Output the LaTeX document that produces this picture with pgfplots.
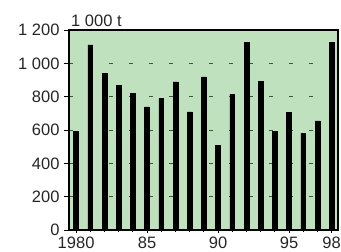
\documentclass[border=0pt]{standalone}
\usepackage{fontspec}
\setmainfont{Liberation Sans}
\usepackage{pgfplots}
\pgfplotsset{compat=1.18}
\definecolor{bg}{RGB}{192,225,190}
\definecolor{gridc}{RGB}{60,85,65}
\begin{document}
\begin{tikzpicture}
\begin{axis}[
  at={(0,0)}, anchor=south west,
  scale only axis, width=269bp, height=200bp,
  xmin=1979.5, xmax=1998.45, ymin=0, ymax=1200,
  axis background/.style={fill=bg},
  axis line style={line width=1.4bp},
  ytick={0,200,...,1200},
  xtick={1980,1985,1990,1995,1998},
  xticklabels={1980,85,90,95,98},
  minor xtick={1980,...,1998},
  ytick pos=left, xtick pos=bottom,
  tick style={black, line width=0.8bp},
  major tick length=5bp, minor tick length=4bp,
  xtick align=center, ytick align=outside,
  /pgf/number format/assume math mode=true,
  /pgf/number format/1000 sep={\ },
  tick label style={font=\fontsize{16.5bp}{19bp}\selectfont, text=black!85},
  xticklabel style={yshift=-1bp},
  yticklabel style={xshift=-1bp},
  ymajorgrids,
  grid style={gridc, line width=0.8bp, dash pattern=on 4bp off 16bp},
  enlargelimits=false,
  clip=false,
]
\addplot[ybar, bar width=4.8bp, fill=black, draw=black] coordinates {
(1980,590) (1981,1110) (1982,940) (1983,868) (1984,818) (1985,738)
(1986,788) (1987,888) (1988,708) (1989,918) (1990,508) (1991,812)
(1992,1124) (1993,890) (1994,592) (1995,704) (1996,580) (1997,654)
(1998,1124)
};
\node[anchor=south west, inner sep=0pt, font=\fontsize{16.5bp}{19bp}\selectfont, text=black!85] at ([xshift=2bp,yshift=3bp]rel axis cs:0,1) {1\ 000 t};
\end{axis}
\pgfresetboundingbox
\useasboundingbox (-69bp,-22bp) rectangle (272bp,230bp);
\end{tikzpicture}
\end{document}
